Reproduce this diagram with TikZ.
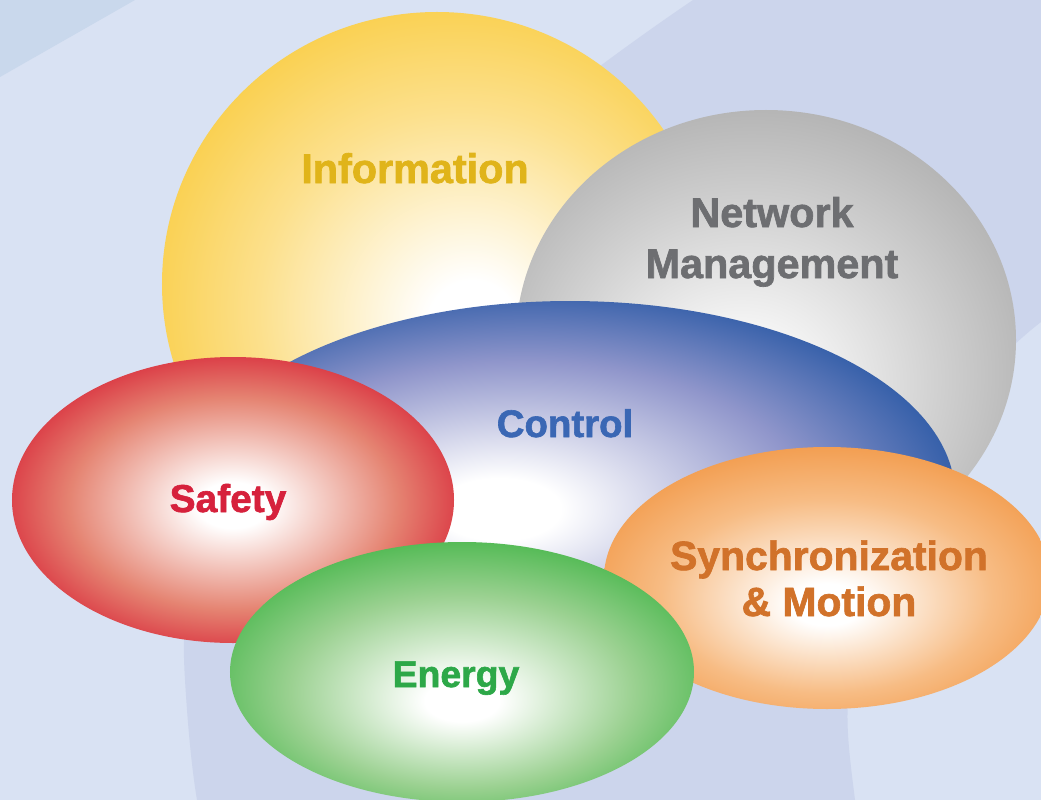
\documentclass[tikz,border=0pt]{standalone}
\usepackage{fontspec}
\setmainfont{Liberation Sans}[BoldFeatures={FakeBold=1.6}]
\usetikzlibrary{shapes.geometric}
\definecolor{bgbase}{HTML}{D9E2F3}
\definecolor{bgdark}{HTML}{CCD5EC}
\definecolor{bgcorner}{HTML}{C9D8EC}
% ellipse colours (outer, middle)
\definecolor{yelO}{HTML}{F9CE48}\definecolor{yelM}{HTML}{FCE08C}
\definecolor{gryO}{HTML}{B3B3B3}\definecolor{gryM}{HTML}{D2D2D2}
\definecolor{bluO}{HTML}{2757A4}\definecolor{bluM}{HTML}{9096CB}
\definecolor{redO}{HTML}{D71F34}\definecolor{redM}{HTML}{E58472}
\definecolor{grnO}{HTML}{4CB84F}\definecolor{grnM}{HTML}{9BD191}
\definecolor{orgO}{HTML}{F29A4A}\definecolor{orgM}{HTML}{F7BC84}
% text colours
\definecolor{tInfo}{HTML}{E0B41A}
\definecolor{tNet}{HTML}{6D6E71}
\definecolor{tCtrl}{HTML}{3A67B4}
\definecolor{tSafe}{HTML}{D6213C}
\definecolor{tEner}{HTML}{2DA848}
\definecolor{tSync}{HTML}{D1722A}
% the ellipse edge lies at about 35bp of the 50bp shading radius
\newcommand\orbshade[5]{\pgfdeclareradialshading{#1}{\pgfpoint{#2}{#3}}{color(0bp)=(white);color(4bp)=(white);color(18.5bp)=(#4);color(29bp)=(#5);color(50bp)=(#5)}}
\orbshade{orbY}{3.5bp}{-4bp}{yelM}{yelO}
\orbshade{orbG}{-3bp}{-7bp}{gryM}{gryO}
\orbshade{orbB}{-5bp}{-2bp}{bluM}{bluO}
\orbshade{orbR}{0bp}{-1bp}{redM}{redO}
\orbshade{orbE}{0bp}{-6bp}{grnM}{grnO}
\orbshade{orbO}{0bp}{-5.5bp}{orgM}{orgO}
\tikzset{
  orb/.style={ellipse, inner sep=0pt, outer sep=0pt, draw=none},
  lab/.style={anchor=base, inner sep=0pt, font=\bfseries\fontsize{#1}{#1}\selectfont},
  lab/.default=41.5
}
\begin{document}
\begin{tikzpicture}[x=1bp,y=-1bp]
\useasboundingbox (0,0) rectangle (1041,800);
\clip (0,0) rectangle (1041,800);
% background
\fill[bgbase] (0,0) rectangle (1041,800);
\fill[bgcorner] (0,0) -- (135,0) -- (0,77) -- cycle;
\fill[bgdark] (693,0) .. controls (520,117) and (260,330) .. (215,450)
  .. controls (190,520) and (180,600) .. (185,680)
  .. controls (188,730) and (192,770) .. (197,800)
  -- (855,800) .. controls (850,760) and (846,730) .. (848,700)
  .. controls (850,560) and (940,400) .. (1041,322) -- (1041,0) -- cycle;
% ellipses (back to front)
\node[orb, shading=orbY, minimum width=550bp, minimum height=544bp] (info) at (437,284) {};
\node[orb, shading=orbG, minimum width=500bp, minimum height=460bp] (net) at (766,340) {};
\node[orb, shading=orbB, minimum width=770bp, minimum height=388bp] (ctrl) at (570,495) {};
\node[orb, shading=orbO, minimum width=446bp, minimum height=262bp] (sync) at (827,578) {};
\node[orb, shading=orbR, minimum width=442bp, minimum height=286bp] (safe) at (233,500) {};
\node[orb, shading=orbE, minimum width=464bp, minimum height=260bp] (ener) at (462,672) {};
% labels
\node[lab=41.5, text=tInfo] (tinfo) at (415,183) {Information};
\node[lab=41.5, text=tNet] (tnet1) at (772,227) {Network};
\node[lab=41.5, text=tNet] (tnet2) at (772,278) {Management};
\node[lab=38.5, text=tCtrl] (tctrl) at (565,437) {Control};
\node[lab=39, text=tSafe] (tsafe) at (228,512) {Safety};
\node[lab=37.5, text=tEner] (tener) at (456,687) {Energy};
\node[lab=41, text=tSync] (tsync1) at (829,570) {Synchronization};
\node[lab=41, text=tSync] (tsync2) at (829,616) {\&~Motion};
\end{tikzpicture}
\end{document}
